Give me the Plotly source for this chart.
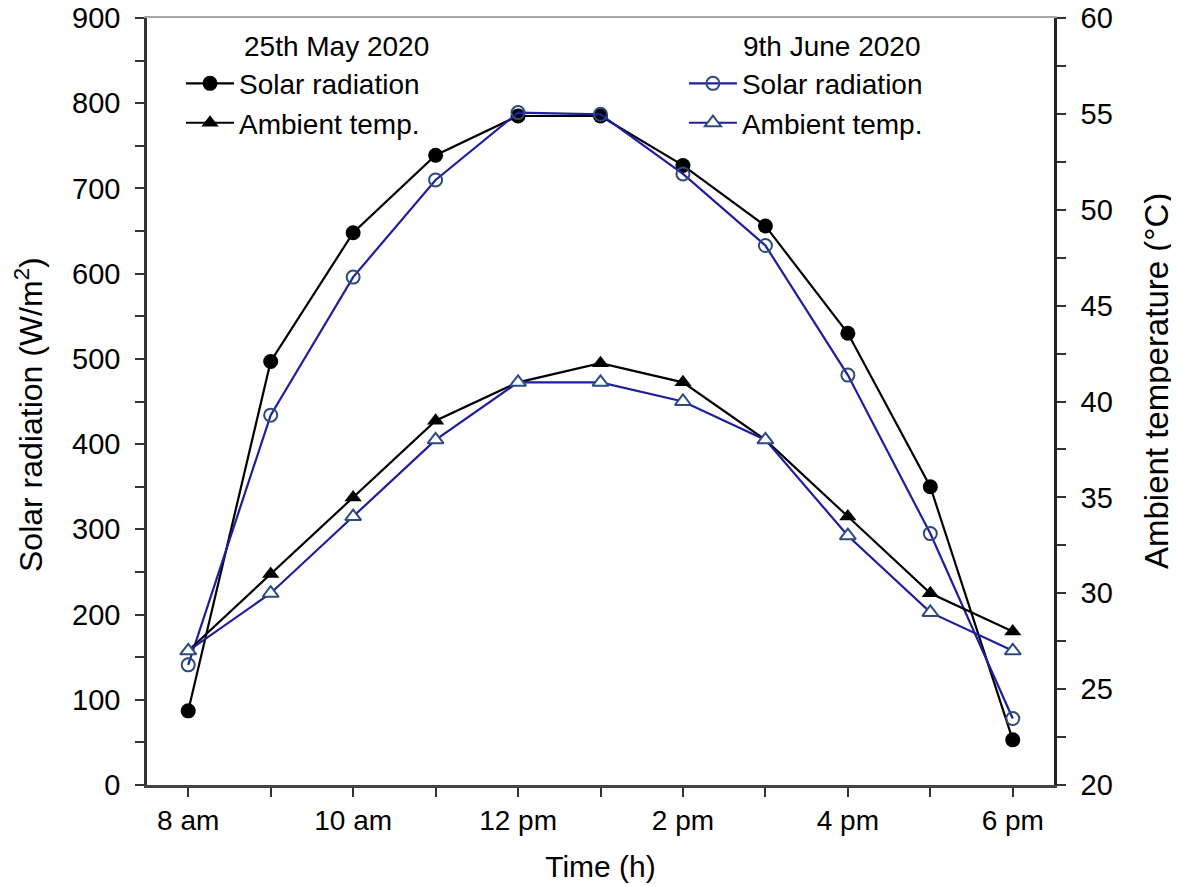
import plotly.graph_objects as go

hours = [8, 9, 10, 11, 12, 13, 14, 15, 16, 17, 18]
tick_vals = [8, 10, 12, 14, 16, 18]
tick_text = ["8 am", "10 am", "12 pm", "2 pm", "4 pm", "6 pm"]

solar_may = [87, 497, 648, 739, 785, 785, 727, 656, 530, 350, 53]
temp_may = [27, 31, 35, 39, 41, 42, 41, 38, 34, 30, 28]
solar_june = [141, 434, 596, 710, 789, 787, 717, 633, 481, 295, 78]
temp_june = [27, 30, 34, 38, 41, 41, 40, 38, 33, 29, 27]

FONT = "Liberation Sans, Arial, sans-serif"
BLACK = "#000000"
BLUE = "#1e1e9e"
BLUE_EDGE = "#2d4b7e"

fig = go.Figure()

fig.add_trace(go.Scatter(
    x=hours, y=solar_may, name="Solar radiation", mode="lines+markers",
    line=dict(color=BLACK, width=2.2),
    marker=dict(symbol="circle", size=15, color=BLACK),
    legend="legend", yaxis="y"))
fig.add_trace(go.Scatter(
    x=hours, y=temp_may, name="Ambient temp.", mode="lines+markers",
    line=dict(color=BLACK, width=2.2),
    marker=dict(symbol="triangle-up", size=15, color=BLACK),
    legend="legend", yaxis="y2"))
fig.add_trace(go.Scatter(
    x=hours, y=solar_june, name="Solar radiation", mode="lines+markers",
    line=dict(color=BLUE, width=2.2),
    marker=dict(symbol="circle-open", size=13, color=BLUE_EDGE, line=dict(width=2, color=BLUE_EDGE)),
    legend="legend2", yaxis="y"))
fig.add_trace(go.Scatter(
    x=hours, y=temp_june, name="Ambient temp.", mode="lines+markers",
    line=dict(color=BLUE, width=2.2),
    marker=dict(symbol="triangle-up", size=14, color="white", line=dict(width=2, color=BLUE_EDGE)),
    legend="legend2", yaxis="y2"))

# empty trace bound to a top axis that draws the grey top frame line
fig.add_trace(go.Scatter(x=[], y=[], xaxis="x2", showlegend=False))

fig.update_layout(
    width=1179, height=886,
    margin=dict(l=139, r=133, t=10, b=109),
    paper_bgcolor="white", plot_bgcolor="white",
    font=dict(family=FONT, size=28, color="black"),
    xaxis=dict(
        range=[7.5, 18.5], tickmode="array", tickvals=tick_vals, ticktext=tick_text,
        ticks="outside", ticklen=9, tickwidth=2, tickcolor="#333",
        minor=dict(tick0=8, dtick=1, ticks="outside", ticklen=9, tickwidth=2, tickcolor="#333"),
        showline=True, linecolor="#444", linewidth=2.5, showgrid=False, zeroline=False,
        tickfont=dict(size=28), automargin=False,
        title=dict(text="Time (h)", font=dict(size=30), standoff=21),
    ),
    xaxis2=dict(
        range=[7.5, 18.5], overlaying="x", side="top", showline=True, linecolor="#a8a8a8",
        linewidth=2, showticklabels=False, ticks="", showgrid=False, zeroline=False,
        automargin=False,
    ),
    yaxis=dict(
        range=[0, 900], dtick=100, tick0=0, ticks="outside", ticklen=9, tickwidth=2,
        tickcolor="#333", showline=True, linecolor="#333", linewidth=2.5,
        showgrid=False, zeroline=False, tickfont=dict(size=29), automargin=False,
        ticklabeloverflow="allow", ticklabelstandoff=9,
        minor=dict(dtick=50, ticks="outside", ticklen=9, tickwidth=2, tickcolor="#333"),
    ),
    yaxis2=dict(
        range=[20, 60], dtick=5, tick0=20, overlaying="y", side="right",
        ticks="outside", ticklen=9, tickwidth=2, tickcolor="#333",
        showline=True, linecolor="#222", linewidth=2.5, showgrid=False, zeroline=False,
        tickfont=dict(size=29), automargin=False,
        ticklabeloverflow="allow", ticklabelstandoff=9,
        minor=dict(dtick=2.5, ticks="outside", ticklen=9, tickwidth=2, tickcolor="#333"),
    ),
    legend=dict(
        x=0.0375, y=0.947, xanchor="left", yanchor="top", bgcolor="rgba(0,0,0,0)",
        font=dict(size=28), itemwidth=48, tracegroupgap=0,
    ),
    legend2=dict(
        x=0.592, y=0.947, xanchor="left", yanchor="top", bgcolor="rgba(0,0,0,0)",
        font=dict(size=28), itemwidth=48, tracegroupgap=0,
    ),
    annotations=[
        dict(text="25th May 2020", x=0.1047, y=0.963, xref="paper", yref="paper",
             xanchor="left", yanchor="middle", showarrow=False, font=dict(size=28)),
        dict(text="9th June 2020", x=0.6547, y=0.963, xref="paper", yref="paper",
             xanchor="left", yanchor="middle", showarrow=False, font=dict(size=28)),
        dict(text="Solar radiation (W/m<sup>2</sup>)", x=-0.1301, y=0.4837,
             xref="paper", yref="paper", xanchor="center", yanchor="middle",
             textangle=-90, showarrow=False, font=dict(size=32)),
        dict(text="Ambient temperature (°C)", x=1.1125, y=0.5267,
             xref="paper", yref="paper", xanchor="center", yanchor="middle",
             textangle=-90, showarrow=False, font=dict(size=33)),
    ],
)

fig.write_html("out.html")
